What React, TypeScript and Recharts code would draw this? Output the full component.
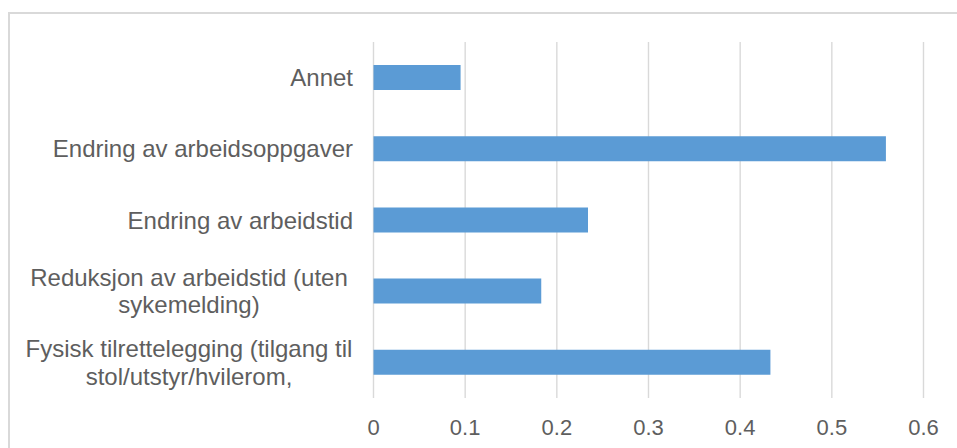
import React from "react";
import { BarChart, Bar, XAxis, YAxis, CartesianGrid } from "recharts";

const categories = [
  "Annet",
  "Endring av arbeidsoppgaver",
  "Endring av arbeidstid",
  "Reduksjon av arbeidstid (uten sykemelding)",
  "Fysisk tilrettelegging (tilgang til stol/utstyr/hvilerom,",
];
const categoryLines: string[][] = [
  ["Annet"],
  ["Endring av arbeidsoppgaver"],
  ["Endring av arbeidstid"],
  ["Reduksjon av arbeidstid (uten", "sykemelding)"],
  ["Fysisk tilrettelegging (tilgang til", "stol/utstyr/hvilerom,"],
];
const values = [0.095, 0.559, 0.234, 0.183, 0.433];
const xTicks = [0, 0.1, 0.2, 0.3, 0.4, 0.5, 0.6];

const data = categories.map((c, i) => ({ name: c, value: values[i] }));

const FONT = "'Liberation Sans', Arial, sans-serif";
const TEXT = "#5E5E5E";
const FS = 24;

const YTick = (props: any) => {
  const { x, y, payload } = props;
  const idx = categories.indexOf(payload.value);
  const lines = categoryLines[idx] || [String(payload.value)];
  if (lines.length === 1) {
    return (
      <text x={x} y={y + 8.5} textAnchor="end" fill={TEXT} fontSize={FS} fontFamily={FONT}>
        {lines[0]}
      </text>
    );
  }
  const cx = x - 164;
  return (
    <g>
      {lines.map((l, i) => (
        <text
          key={i}
          x={cx}
          y={y + 8.5 + (i - (lines.length - 1) / 2) * 27.4}
          textAnchor="middle"
          fill={TEXT}
          fontSize={FS}
          fontFamily={FONT}
        >
          {l}
        </text>
      ))}
    </g>
  );
};

const XTick = (props: any) => {
  const { x, y, payload } = props;
  return (
    <text x={x} y={y + 37} textAnchor="middle" fill={TEXT} fontSize={22} fontFamily={FONT}>
      {String(payload.value)}
    </text>
  );
};

export default function App() {
  return (
    <div
      style={{
        position: "absolute",
        left: 0,
        top: 0,
        width: 957,
        height: 448,
        overflow: "hidden",
        background: "#fff",
      }}
    >
      <div
        style={{
          position: "absolute",
          left: 8,
          top: 12,
          width: 1000,
          height: 600,
          border: "2px solid #D9D9D9",
          boxSizing: "border-box",
        }}
      />
      <div style={{ position: "absolute", left: 0, top: 0 }}>
        <BarChart
          width={957}
          height={448}
          data={data}
          layout="vertical"
          margin={{ top: 42, right: 33.5, bottom: 0, left: 0 }}
          barCategoryGap={0}
        >
          <CartesianGrid horizontal={false} vertical={true} stroke="#D9D9D9" strokeWidth={1.4} />
          <XAxis
            type="number"
            domain={[0, 0.6]}
            ticks={xTicks}
            axisLine={false}
            tickLine={false}
            tickSize={0}
            tickMargin={0}
            height={50}
            tick={<XTick />}
            interval={0}
          />
          <YAxis
            type="category"
            dataKey="name"
            width={373.5}
            axisLine={false}
            tickLine={false}
            tickSize={0}
            tickMargin={20.5}
            tick={<YTick />}
            interval={0}
          />
          <Bar dataKey="value" fill="#5B9BD5" barSize={25} isAnimationActive={false} />
        </BarChart>
      </div>
    </div>
  );
}
